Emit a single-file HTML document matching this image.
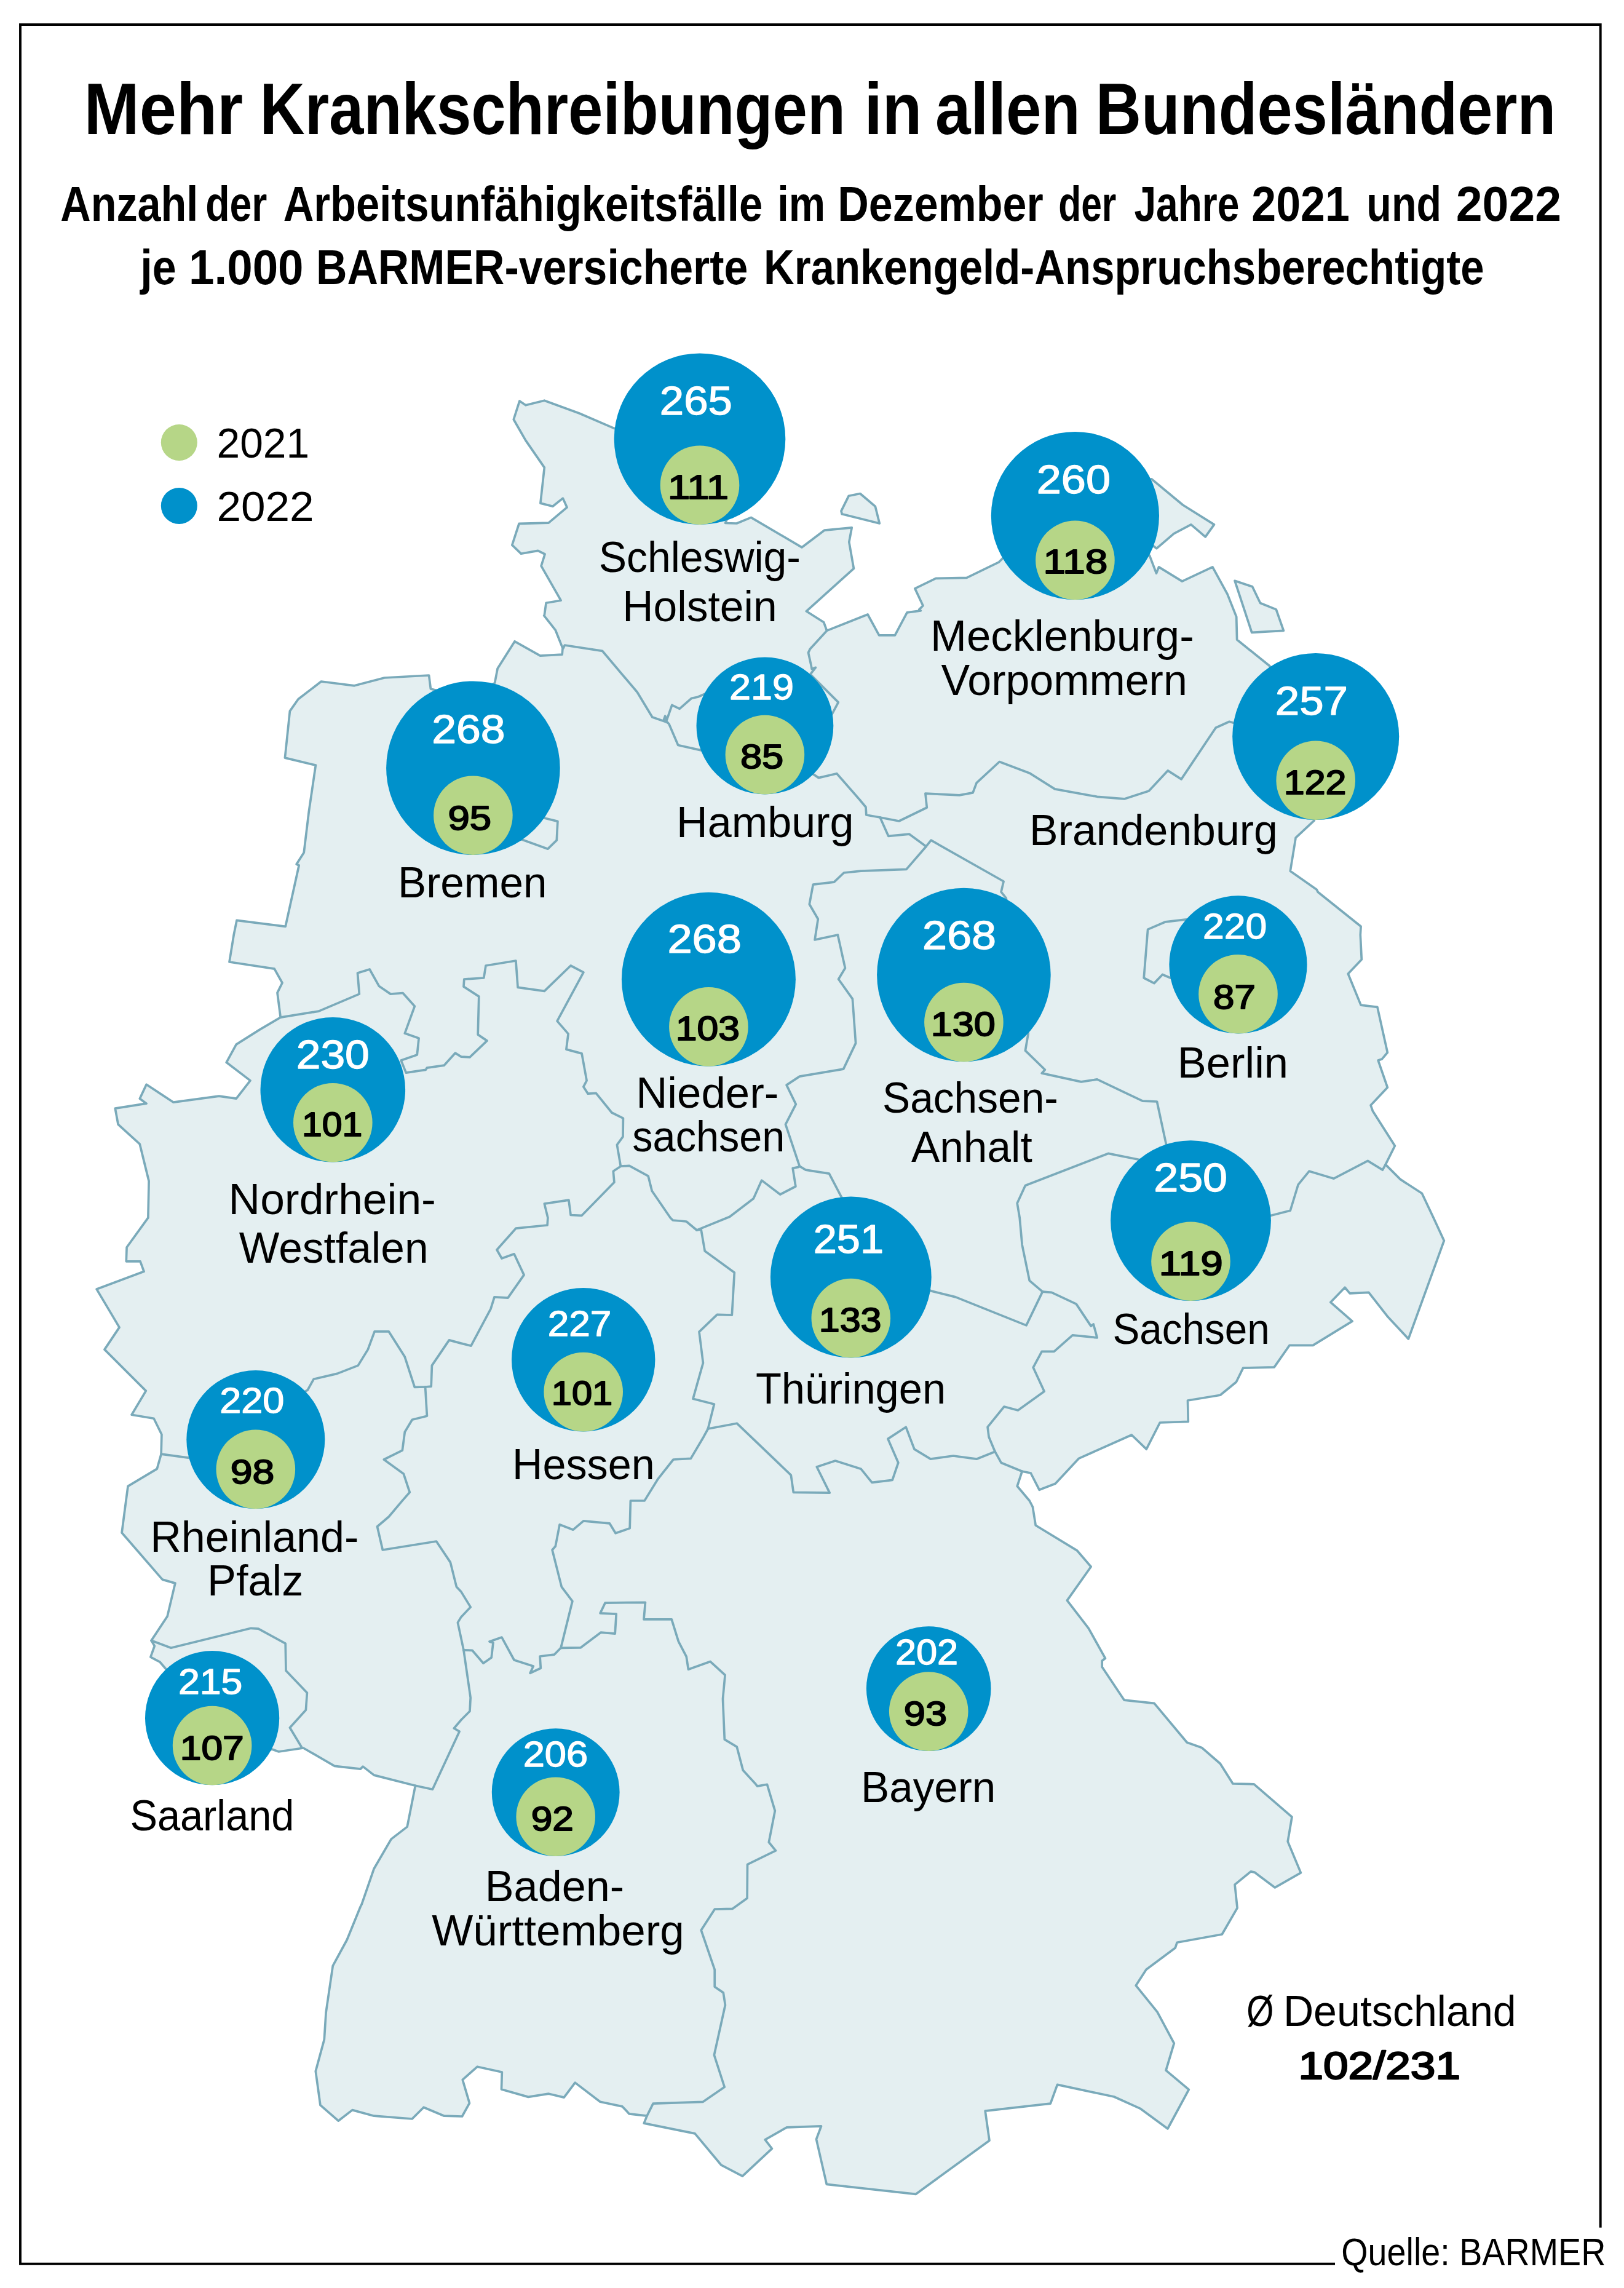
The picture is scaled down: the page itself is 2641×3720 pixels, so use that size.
<!DOCTYPE html>
<html lang="de"><head><meta charset="utf-8"><title>Mehr Krankschreibungen in allen Bundesländern</title>
<style>html,body{margin:0;padding:0;background:#fff}svg{display:block}text{font-family:"Liberation Sans", sans-serif;white-space:pre}</style></head><body>
<svg width="2641" height="3720" viewBox="0 0 2641 3720" role="img" aria-label="Mehr Krankschreibungen in allen Bundesländern">
<rect width="2641" height="3720" fill="#fff"/>
<path d="M2171 3680.8 L33 3680.8 L33 40 L2602.7 40 L2602.7 3621.7" fill="none" stroke="#000" stroke-width="3.9" stroke-linejoin="miter"/>
<g fill="#e4eff1" stroke="#7aaaba" stroke-width="3.7" stroke-linejoin="round" stroke-linecap="round">
<path d="M998.1 696.1 L942.1 672.0 L885.3 651.2 L854.9 658.8 L844.9 652.0 L835.3 682.0 L854.9 716.1 L885.3 760.1 L878.9 818.1 L898.9 823.3 L915.3 810.1 L922.1 824.9 L892.1 850.2 L844.1 851.4 L832.8 886.2 L847.3 900.2 L874.9 895.4 L886.1 901.0 L880.1 920.2 L912.1 976.2 L888.1 980.2 L885.3 1000.2 L884.7 1000.9 L903.2 1024.3 L915.0 1053.9 L914.2 1064.2 L878.5 1066.2 L837.1 1042.8 L809.1 1087.1 L804.6 1110.5 L760.0 1135.0 L700.4 1120.0 L697.6 1098.0 L625.1 1102.0 L576.3 1114.8 L522.3 1108.0 L485.0 1136.8 L471.4 1156.1 L463.4 1232.1 L513.4 1244.1 L502.2 1320.2 L494.2 1386.2 L482.2 1405.0 L486.2 1407.0 L464.2 1506.3 L385.0 1496.3 L380.2 1519.9 L373.0 1564.0 L446.2 1575.2 L459.0 1598.0 L451.0 1614.1 L456.2 1654.1 L422.2 1674.1 L384.2 1698.1 L368.2 1727.3 L407.0 1756.9 L384.2 1786.2 L356.2 1782.2 L282.1 1792.2 L238.1 1763.3 L227.3 1786.2 L238.1 1794.2 L187.3 1802.2 L192.1 1828.2 L227.3 1860.2 L242.1 1920.2 L240.9 1979.9 L206.1 2028.0 L205.3 2050.8 L228.1 2050.8 L234.1 2067.3 L157.2 2096.1 L194.1 2158.1 L170.0 2194.1 L237.3 2261.4 L214.1 2300.2 L250.1 2306.2 L262.9 2332.2 L262.1 2364.2 L255.3 2388.2 L208.1 2416.3 L204.9 2439.9 L198.1 2492.0 L264.1 2568.1 L284.9 2574.1 L272.1 2628.1 L246.1 2667.3 L251.3 2676.1 L244.9 2694.2 L260.1 2702.2 L272.1 2716.2 L255.0 2760.0 L270.0 2830.0 L330.0 2880.0 L400.0 2860.0 L442.1 2844.0 L453.3 2848.0 L493.3 2842.0 L544.1 2871.3 L586.2 2876.1 L590.2 2872.1 L608.2 2886.1 L675.4 2903.3 L662.2 2970.1 L636.2 2990.1 L608.2 3038.2 L588.2 3096.2 L586.2 3100.0 L564.2 3154.0 L541.3 3196.1 L530.1 3272.1 L527.3 3316.1 L513.3 3367.4 L520.9 3422.6 L550.2 3448.2 L573.0 3430.6 L608.2 3440.2 L670.2 3445.0 L689.0 3426.2 L722.3 3440.2 L751.5 3441.0 L763.5 3419.4 L752.3 3381.4 L776.3 3360.2 L816.3 3369.0 L815.5 3397.0 L859.1 3409.4 L892.4 3404.2 L917.2 3410.1 L935.2 3386.1 L976.0 3417.3 L1012.1 3424.9 L1023.3 3436.9 L1052.1 3440.1 L1047.3 3452.1 L1130.1 3468.9 L1173.0 3520.2 L1207.4 3538.2 L1255.4 3493.3 L1244.2 3478.9 L1279.4 3458.9 L1335.5 3456.9 L1327.5 3478.1 L1344.3 3551.4 L1489.2 3567.4 L1609.0 3480.2 L1602.2 3432.2 L1708.3 3420.2 L1719.5 3389.4 L1811.6 3409.0 L1854.0 3428.1 L1898.9 3461.0 L1933.3 3397.3 L1896.1 3366.1 L1909.3 3322.1 L1882.0 3271.2 L1847.2 3228.2 L1864.0 3202.2 L1911.3 3167.0 L1914.1 3158.2 L1987.3 3145.0 L2012.1 3102.1 L2008.1 3064.1 L2034.1 3042.9 L2040.1 3044.1 L2073.4 3068.9 L2115.4 3044.9 L2094.2 2994.1 L2101.0 2954.1 L2039.3 2900.8 L2004.9 2900.0 L1984.4 2867.5 L1954.3 2841.4 L1930.3 2833.0 L1877.1 2769.4 L1828.3 2764.2 L1792.2 2710.2 L1792.2 2700.2 L1797.4 2696.2 L1770.2 2647.3 L1735.4 2602.1 L1774.2 2547.3 L1751.4 2520.8 L1684.2 2480.0 L1679.4 2450.0 L1674.2 2440.0 L1654.2 2416.3 L1662.2 2392.2 L1676.2 2395.0 L1690.2 2422.3 L1716.2 2412.3 L1754.2 2371.4 L1840.3 2333.0 L1864.3 2356.2 L1886.3 2313.0 L1932.3 2311.4 L1931.5 2277.0 L1984.4 2268.2 L2010.4 2247.0 L2021.6 2224.1 L2072.2 2222.9 L2097.1 2187.3 L2135.1 2187.3 L2199.1 2148.1 L2163.9 2117.3 L2187.1 2093.3 L2195.1 2102.9 L2225.9 2101.3 L2257.2 2141.3 L2290.4 2176.9 L2348.4 2017.2 L2331.2 1980.0 L2312.4 1940.3 L2277.2 1917.4 L2253.2 1893.4 L2268.4 1863.0 L2232.3 1806.2 L2229.1 1797.0 L2256.4 1768.1 L2241.2 1724.1 L2247.2 1722.1 L2256.4 1711.3 L2239.9 1637.3 L2213.1 1634.1 L2192.3 1583.2 L2214.3 1560.0 L2212.3 1520.0 L2213.1 1506.3 L2143.1 1450.2 L2141.1 1446.2 L2098.3 1416.2 L2107.1 1362.2 L2137.1 1334.2 L2150.0 1280.0 L2120.0 1150.0 L2064.1 1082.2 L2011.6 1040.0 L2010.7 1002.9 L1996.0 965.9 L1971.9 921.9 L1922.4 945.2 L1884.5 921.9 L1880.5 932.2 L1869.3 902.9 L1800.0 880.0 L1700.0 850.0 L1630.1 908.2 L1624.1 914.2 L1572.1 939.4 L1521.9 940.4 L1487.9 956.9 L1501.0 984.7 L1494.8 990.9 L1497.3 992.9 L1475.1 995.8 L1455.4 1032.8 L1429.6 1032.8 L1411.1 999.0 L1344.6 1025.4 L1339.7 1011.8 L1311.3 993.8 L1388.4 924.4 L1380.8 881.3 L1385.2 857.9 L1340.9 862.1 L1303.9 889.9 L1221.4 841.4 L1198.0 851.0 L1179.6 850.5 L1200.0 800.0 L1100.0 720.0Z"/>
<path d="M1380.3 806.2 L1398.8 802.5 L1423.4 823.4 L1430.3 851.0 L1369.2 835.7 L1368.0 830.8Z"/>
<path d="M2008.1 944.3 L2036.6 953.8 L2049.5 980.5 L2075.3 990.9 L2087.4 1025.3 L2035.7 1028.3Z"/>
<path d="M1872.8 778.8 L1923.6 821.0 L1974.5 852.9 L1960.2 872.8 L1936.9 852.9 L1909.0 867.6 L1881.0 891.7 L1875.3 887.4 L1840.0 850.0 L1840.0 790.0Z"/>
<g fill="none">
<path d="M916.0 1053.9 L918.4 1049.0 L979.5 1058.3 L1036.2 1125.3 L1060.8 1166.0 L1085.4 1174.6"/>
<path d="M1085.4 1174.6 L1079.3 1170.9 L1081.7 1164.2 L1084.2 1170.9 L1092.8 1146.3 L1105.1 1152.4 L1124.8 1135.2 L1134.7 1133.2 L1144.5 1129.0 L1172.1 1117.2"/>
<path d="M1085.4 1174.6 L1087.9 1177.0 L1102.7 1211.5 L1133.4 1218.4 L1162.7 1225.0"/>
<path d="M1344.6 1025.4 L1317.5 1054.9 L1314.5 1061.1 L1318.7 1080.0 L1320.2 1087.7 L1326.4 1085.3 L1317.7 1096.4 L1363.3 1141.9 L1353.4 1160.4 L1339.2 1186.9"/>
<path d="M1297.7 1242.3 L1322.7 1258.9 L1331.3 1264.6 L1360.8 1257.7 L1397.8 1300.0 L1408.0 1312.2 L1408.8 1325.0 L1431.2 1329.0 L1462.0 1335.0 L1507.3 1313.0 L1504.9 1290.1 L1560.1 1292.9 L1582.1 1288.9 L1588.1 1272.9 L1625.3 1238.5 L1674.2 1256.9 L1715.4 1282.9 L1784.2 1295.3 L1828.3 1298.9 L1868.3 1286.1 L1899.1 1252.9 L1921.1 1266.9 L1977.1 1183.3 L1999.2 1173.3 L2008.4 1176.1 L2037.1 1184.8"/>
<path d="M1431.2 1329.0 L1444.8 1359.4 L1478.8 1356.2 L1506.1 1376.2"/>
<path d="M1506.1 1376.2 L1514.1 1366.2 L1632.1 1433.0 L1628.1 1450.2 L1636.1 1460.2 L1660.0 1560.0 L1672.2 1680.1 L1667.4 1708.1 L1699.4 1739.3 L1694.2 1744.9 L1758.2 1758.9 L1784.2 1754.9 L1858.3 1790.2 L1881.5 1791.0 L1895.5 1856.2 L1901.8 1885.5"/>
<path d="M1506.1 1376.2 L1474.0 1413.4 L1400.0 1416.2 L1372.4 1419.0 L1356.4 1434.2 L1322.3 1438.2 L1316.3 1470.2 L1330.3 1494.3 L1326.3 1519.9 L1325.1 1528.0 L1362.4 1520.0 L1374.4 1574.0 L1363.6 1592.0 L1386.4 1624.1 L1391.6 1696.1 L1371.6 1738.1 L1300.3 1750.1 L1279.1 1764.1 L1294.3 1795.4 L1277.5 1828.2 L1300.3 1896.2"/>
<path d="M1300.3 1896.2 L1310.3 1902.2 L1348.4 1908.2 L1368.4 1946.3 L1400.0 2000.0 L1480.0 2080.0 L1514.1 2098.9 L1554.1 2108.9 L1669.0 2154.9 L1695.4 2100.1"/>
<path d="M1299.0 1897.4 L1289.2 1899.4 L1293.9 1929.0 L1268.7 1942.0 L1238.7 1919.1 L1225.3 1948.7 L1186.7 1978.2 L1133.5 1999.9"/>
<path d="M1009.4 1896.2 L1023.4 1895.4 L1054.2 1912.2 L1060.2 1936.2 L1090.2 1980.0 L1094.2 1984.0 L1116.2 1986.0 L1133.0 2000.0"/>
<path d="M1133.0 2000.0 L1140.2 1999.2 L1146.2 2034.0 L1194.3 2068.9 L1190.3 2138.1 L1166.2 2137.3 L1137.0 2165.3 L1143.4 2216.1 L1127.0 2274.2 L1161.4 2283.0 L1151.4 2323.0"/>
<path d="M456.2 1654.1 L518.3 1644.1 L584.3 1616.1 L581.5 1582.0 L601.1 1576.0 L616.3 1603.2 L635.1 1616.1 L655.1 1614.5 L674.3 1636.1 L658.3 1680.1 L681.1 1688.1 L678.3 1714.9 L652.3 1724.1 L660.3 1744.1 L692.4 1739.3 L694.4 1736.1 L722.4 1732.1 L740.4 1712.1 L750.0 1718.1 L764.0 1718.9 L792.0 1692.1 L777.2 1682.1 L778.8 1620.1 L754.0 1604.1 L754.8 1592.0 L786.8 1590.0 L790.0 1570.0 L838.9 1562.0 L842.1 1605.3 L885.3 1611.3 L928.1 1570.0 L948.9 1580.8 L906.1 1660.1 L924.1 1680.9 L920.9 1706.1 L946.1 1712.9 L954.1 1756.9 L948.9 1766.9 L956.1 1778.2 L969.3 1777.4 L994.9 1809.0 L1013.4 1818.2 L1013.0 1848.2 L1003.4 1861.4 L1009.4 1896.2"/>
<path d="M1009.4 1896.2 L997.3 1904.2 L998.9 1922.2 L946.1 1976.3 L928.1 1975.5 L924.9 1951.1 L885.3 1957.1 L890.9 1979.9 L890.1 1992.0 L838.9 1997.2 L808.0 2032.0 L816.0 2046.0 L836.1 2038.8 L852.1 2072.9 L826.0 2110.1 L804.0 2108.9 L798.0 2128.1 L766.0 2188.1 L750.0 2184.1 L730.4 2178.9 L702.4 2220.1 L701.2 2254.2 L691.6 2255.0"/>
<path d="M262.1 2364.2 L306.1 2370.2 L500.2 2260.2 L510.2 2242.2 L548.3 2233.4 L582.3 2220.1 L598.3 2194.1 L609.1 2164.9 L632.3 2164.9 L658.3 2206.1 L674.3 2255.4 L691.6 2255.0"/>
<path d="M691.6 2255.0 L694.4 2302.2 L670.3 2308.2 L658.3 2328.2 L654.3 2358.2 L624.3 2373.0 L656.3 2396.2 L666.3 2426.3 L654.3 2439.9 L632.3 2466.0 L613.5 2482.0 L622.3 2520.0 L709.6 2506.0 L732.4 2540.1 L742.4 2580.1 L750.0 2588.1 L765.2 2612.9 L750.0 2628.9 L744.4 2638.1 L750.0 2664.1 L754.0 2682.9"/>
<path d="M912.1 2679.3 L901.3 2690.2 L878.1 2693.0 L879.3 2712.2 L862.1 2720.2 L867.3 2709.0 L836.1 2699.0 L816.0 2662.1 L796.0 2668.9 L802.0 2670.9 L799.2 2695.0 L786.0 2704.2 L768.0 2683.3 L754.0 2682.9"/>
<path d="M754.0 2682.9 L765.2 2760.2 L764.0 2782.2 L750.0 2796.2 L738.3 2810.0 L747.1 2815.2 L703.4 2909.3 L675.4 2903.3"/>
<path d="M1151.4 2323.0 L1144.2 2336.2 L1123.4 2371.4 L1095.0 2373.0 L1070.2 2404.3 L1048.2 2439.9 L1025.4 2440.0 L1024.2 2484.8 L1001.0 2492.8 L991.3 2476.8 L948.9 2472.8 L932.1 2487.2 L910.1 2478.8 L903.3 2514.0 L898.1 2520.0 L913.3 2580.1 L930.9 2603.3 L912.1 2679.3"/>
<path d="M1151.4 2323.0 L1198.3 2314.2 L1286.3 2398.3 L1290.3 2426.3 L1349.2 2427.1 L1328.3 2385.0 L1358.4 2375.0 L1400.0 2388.2 L1418.0 2410.3 L1451.2 2406.3 L1460.8 2378.2 L1444.0 2339.4 L1473.2 2320.2 L1486.9 2356.2 L1513.3 2372.2 L1550.1 2367.0 L1588.1 2372.2 L1618.1 2360.2"/>
<path d="M1695.4 2100.1 L1710.2 2101.3 L1750.2 2120.1 L1774.2 2156.1 L1778.2 2152.9 L1784.2 2174.9 L1744.2 2170.9 L1714.2 2197.3 L1694.2 2197.3 L1680.2 2223.3 L1698.2 2262.2 L1655.4 2293.0 L1632.9 2287.0 L1606.1 2320.2 L1608.1 2336.2 L1618.1 2360.2"/>
<path d="M1618.1 2360.2 L1628.1 2378.2 L1662.2 2392.2"/>
<path d="M1879.7 1890.9 L1850.3 1885.0 L1802.2 1875.4 L1667.4 1927.4 L1654.2 1956.3 L1658.2 1979.9 L1662.2 2024.0 L1674.2 2082.1 L1695.4 2100.1"/>
<path d="M2253.2 1893.4 L2248.4 1902.2 L2224.3 1887.4 L2169.1 1916.2 L2129.1 1904.2 L2111.1 1926.2 L2098.3 1968.3 L2067.0 1976.3 L2037.9 1983.7"/>
<path d="M912.1 2679.3 L944.1 2678.9 L977.3 2654.1 L1000.2 2656.1 L1002.2 2624.1 L976.1 2622.9 L984.1 2606.1 L1049.4 2605.3 L1047.0 2632.9 L1092.2 2632.9 L1103.4 2668.9 L1116.2 2693.4 L1119.4 2714.2 L1155.0 2701.4 L1179.1 2723.4 L1175.5 2762.2 L1178.3 2828.2 L1198.3 2840.2 L1208.3 2878.3 L1228.3 2899.9 L1231.5 2904.1 L1247.5 2901.3 L1260.3 2944.1 L1250.3 2995.3 L1261.5 3008.9 L1215.5 3031.4 L1215.1 3086.2 L1191.1 3103.4 L1162.2 3104.2 L1140.2 3138.2 L1162.2 3202.3 L1162.2 3230.3 L1176.3 3239.9 L1179.4 3260.0 L1161.4 3341.2 L1178.2 3393.3 L1143.3 3417.3 L1062.1 3420.1 L1052.1 3440.1"/>
<path d="M246.1 2667.3 L278.1 2679.3 L408.2 2647.3 L420.2 2648.1 L464.2 2672.1 L465.0 2716.2 L499.4 2752.2 L497.4 2780.2 L471.4 2809.0 L490.2 2840.2"/>
<path d="M1957.2 1491.7 L1927.4 1495.1 L1895.4 1498.8 L1866.6 1511.1 L1860.2 1590.0 L1876.9 1598.6 L1890.5 1584.5 L1903.5 1590.0 L1931.1 1601.7"/>
<path d="M857.0 1322.9 L886.1 1330.2 L906.9 1335.4 L905.3 1366.2 L890.9 1380.2 L852.1 1366.2 L823.9 1356.0"/>
</g></g>
<circle cx="291.3" cy="719.4" r="29.5" fill="#b6d687"/><circle cx="291.3" cy="822.4" r="29.5" fill="#0091cb"/>
<circle cx="1138.0" cy="713.7" r="139.3" fill="#0091cb"/><circle cx="1138.0" cy="788.7" r="64.3" fill="#b6d687"/>
<circle cx="1748.4" cy="838.5" r="136.6" fill="#0091cb"/><circle cx="1748.4" cy="910.8" r="64.3" fill="#b6d687"/>
<circle cx="1243.9" cy="1180.0" r="111.4" fill="#0091cb"/><circle cx="1243.9" cy="1227.1" r="64.3" fill="#b6d687"/>
<circle cx="769.4" cy="1248.7" r="141.3" fill="#0091cb"/><circle cx="769.4" cy="1325.7" r="64.3" fill="#b6d687"/>
<circle cx="2139.7" cy="1197.5" r="135.5" fill="#0091cb"/><circle cx="2139.7" cy="1268.7" r="64.3" fill="#b6d687"/>
<circle cx="1152.4" cy="1592.2" r="141.5" fill="#0091cb"/><circle cx="1152.4" cy="1669.4" r="64.3" fill="#b6d687"/>
<circle cx="1567.4" cy="1585.0" r="141.3" fill="#0091cb"/><circle cx="1567.4" cy="1662.0" r="64.3" fill="#b6d687"/>
<circle cx="2013.5" cy="1568.4" r="112.1" fill="#0091cb"/><circle cx="2013.5" cy="1616.2" r="64.3" fill="#b6d687"/>
<circle cx="541.3" cy="1771.7" r="117.8" fill="#0091cb"/><circle cx="541.3" cy="1825.2" r="64.3" fill="#b6d687"/>
<circle cx="1936.5" cy="1984.6" r="130.4" fill="#0091cb"/><circle cx="1936.5" cy="2050.7" r="64.3" fill="#b6d687"/>
<circle cx="1383.8" cy="2076.5" r="130.9" fill="#0091cb"/><circle cx="1383.8" cy="2143.1" r="64.3" fill="#b6d687"/>
<circle cx="948.7" cy="2210.7" r="116.7" fill="#0091cb"/><circle cx="948.7" cy="2263.1" r="64.3" fill="#b6d687"/>
<circle cx="415.8" cy="2340.6" r="112.5" fill="#0091cb"/><circle cx="415.8" cy="2388.8" r="64.3" fill="#b6d687"/>
<circle cx="345.1" cy="2793.2" r="109.1" fill="#0091cb"/><circle cx="345.1" cy="2838.0" r="64.3" fill="#b6d687"/>
<circle cx="903.7" cy="2914.1" r="103.9" fill="#0091cb"/><circle cx="903.7" cy="2953.7" r="64.3" fill="#b6d687"/>
<circle cx="1510.2" cy="2745.6" r="101.3" fill="#0091cb"/><circle cx="1510.2" cy="2782.6" r="64.3" fill="#b6d687"/>
<text x="1072.8" y="674.2" font-size="65.7" font-weight="400" fill="#fff" stroke="#fff" stroke-width="1.3" stroke-linejoin="round" textLength="118.1" lengthAdjust="spacingAndGlyphs">265</text>
<text x="1085.9" y="810.9" font-size="56.4" font-weight="400" fill="#000" stroke="#000" stroke-width="1.9" stroke-linejoin="round" textLength="99.1" lengthAdjust="spacingAndGlyphs">111</text>
<text x="1685.7" y="801.5" font-size="65.7" font-weight="400" fill="#fff" stroke="#fff" stroke-width="1.3" stroke-linejoin="round" textLength="120.3" lengthAdjust="spacingAndGlyphs">260</text>
<text x="1696.5" y="932.1" font-size="56.4" font-weight="400" fill="#000" stroke="#000" stroke-width="1.9" stroke-linejoin="round" textLength="104.8" lengthAdjust="spacingAndGlyphs">118</text>
<text x="1186.1" y="1137.0" font-size="58.1" font-weight="400" fill="#fff" stroke="#fff" stroke-width="1.3" stroke-linejoin="round" textLength="105.0" lengthAdjust="spacingAndGlyphs">219</text>
<text x="1203.9" y="1249.0" font-size="56.4" font-weight="400" fill="#000" stroke="#000" stroke-width="1.9" stroke-linejoin="round" textLength="70.4" lengthAdjust="spacingAndGlyphs">85</text>
<text x="702.2" y="1208.2" font-size="65.7" font-weight="400" fill="#fff" stroke="#fff" stroke-width="1.3" stroke-linejoin="round" textLength="119.3" lengthAdjust="spacingAndGlyphs">268</text>
<text x="728.4" y="1348.7" font-size="56.4" font-weight="400" fill="#000" stroke="#000" stroke-width="1.9" stroke-linejoin="round" textLength="70.6" lengthAdjust="spacingAndGlyphs">95</text>
<text x="2073.8" y="1162.3" font-size="65.7" font-weight="400" fill="#fff" stroke="#fff" stroke-width="1.3" stroke-linejoin="round" textLength="118.2" lengthAdjust="spacingAndGlyphs">257</text>
<text x="2087.8" y="1291.0" font-size="56.4" font-weight="400" fill="#000" stroke="#000" stroke-width="1.9" stroke-linejoin="round" textLength="101.7" lengthAdjust="spacingAndGlyphs">122</text>
<text x="1085.4" y="1549.0" font-size="65.7" font-weight="400" fill="#fff" stroke="#fff" stroke-width="1.3" stroke-linejoin="round" textLength="120.5" lengthAdjust="spacingAndGlyphs">268</text>
<text x="1098.8" y="1690.8" font-size="56.4" font-weight="400" fill="#000" stroke="#000" stroke-width="1.9" stroke-linejoin="round" textLength="104.1" lengthAdjust="spacingAndGlyphs">103</text>
<text x="1500.1" y="1542.8" font-size="65.7" font-weight="400" fill="#fff" stroke="#fff" stroke-width="1.3" stroke-linejoin="round" textLength="120.0" lengthAdjust="spacingAndGlyphs">268</text>
<text x="1513.7" y="1684.0" font-size="56.4" font-weight="400" fill="#000" stroke="#000" stroke-width="1.9" stroke-linejoin="round" textLength="105.0" lengthAdjust="spacingAndGlyphs">130</text>
<text x="1956.1" y="1525.7" font-size="58.1" font-weight="400" fill="#fff" stroke="#fff" stroke-width="1.3" stroke-linejoin="round" textLength="104.1" lengthAdjust="spacingAndGlyphs">220</text>
<text x="1973.1" y="1639.5" font-size="56.4" font-weight="400" fill="#000" stroke="#000" stroke-width="1.9" stroke-linejoin="round" textLength="68.8" lengthAdjust="spacingAndGlyphs">87</text>
<text x="481.7" y="1737.2" font-size="65.7" font-weight="400" fill="#fff" stroke="#fff" stroke-width="1.3" stroke-linejoin="round" textLength="119.1" lengthAdjust="spacingAndGlyphs">230</text>
<text x="491.1" y="1847.4" font-size="56.4" font-weight="400" fill="#000" stroke="#000" stroke-width="1.9" stroke-linejoin="round" textLength="98.3" lengthAdjust="spacingAndGlyphs">101</text>
<text x="1876.2" y="1936.5" font-size="65.7" font-weight="400" fill="#fff" stroke="#fff" stroke-width="1.3" stroke-linejoin="round" textLength="119.9" lengthAdjust="spacingAndGlyphs">250</text>
<text x="1884.8" y="2072.9" font-size="56.4" font-weight="400" fill="#000" stroke="#000" stroke-width="1.9" stroke-linejoin="round" textLength="103.8" lengthAdjust="spacingAndGlyphs">119</text>
<text x="1322.7" y="2037.2" font-size="65.7" font-weight="400" fill="#fff" stroke="#fff" stroke-width="1.3" stroke-linejoin="round" textLength="114.3" lengthAdjust="spacingAndGlyphs">251</text>
<text x="1331.8" y="2165.2" font-size="56.4" font-weight="400" fill="#000" stroke="#000" stroke-width="1.9" stroke-linejoin="round" textLength="101.7" lengthAdjust="spacingAndGlyphs">133</text>
<text x="890.8" y="2171.6" font-size="58.1" font-weight="400" fill="#fff" stroke="#fff" stroke-width="1.3" stroke-linejoin="round" textLength="103.5" lengthAdjust="spacingAndGlyphs">227</text>
<text x="896.8" y="2284.2" font-size="56.4" font-weight="400" fill="#000" stroke="#000" stroke-width="1.9" stroke-linejoin="round" textLength="99.4" lengthAdjust="spacingAndGlyphs">101</text>
<text x="357.2" y="2297.2" font-size="58.1" font-weight="400" fill="#fff" stroke="#fff" stroke-width="1.3" stroke-linejoin="round" textLength="105.1" lengthAdjust="spacingAndGlyphs">220</text>
<text x="374.7" y="2411.5" font-size="56.4" font-weight="400" fill="#000" stroke="#000" stroke-width="1.9" stroke-linejoin="round" textLength="71.5" lengthAdjust="spacingAndGlyphs">98</text>
<text x="289.9" y="2754.4" font-size="58.1" font-weight="400" fill="#fff" stroke="#fff" stroke-width="1.3" stroke-linejoin="round" textLength="104.4" lengthAdjust="spacingAndGlyphs">215</text>
<text x="292.8" y="2861.0" font-size="56.4" font-weight="400" fill="#000" stroke="#000" stroke-width="1.9" stroke-linejoin="round" textLength="103.8" lengthAdjust="spacingAndGlyphs">107</text>
<text x="850.7" y="2871.8" font-size="58.1" font-weight="400" fill="#fff" stroke="#fff" stroke-width="1.3" stroke-linejoin="round" textLength="105.5" lengthAdjust="spacingAndGlyphs">206</text>
<text x="863.8" y="2976.1" font-size="56.4" font-weight="400" fill="#000" stroke="#000" stroke-width="1.9" stroke-linejoin="round" textLength="69.1" lengthAdjust="spacingAndGlyphs">92</text>
<text x="1455.9" y="2705.7" font-size="58.1" font-weight="400" fill="#fff" stroke="#fff" stroke-width="1.3" stroke-linejoin="round" textLength="102.3" lengthAdjust="spacingAndGlyphs">202</text>
<text x="1469.8" y="2805.4" font-size="56.4" font-weight="400" fill="#000" stroke="#000" stroke-width="1.9" stroke-linejoin="round" textLength="70.3" lengthAdjust="spacingAndGlyphs">93</text>
<text x="973.7" y="929.9" font-size="70.7" font-weight="400" fill="#000" textLength="328.3" lengthAdjust="spacingAndGlyphs">Schleswig-</text>
<text x="1012.2" y="1009.6" font-size="70.7" font-weight="400" fill="#000" textLength="251.5" lengthAdjust="spacingAndGlyphs">Holstein</text>
<text x="1513.0" y="1058.0" font-size="70.7" font-weight="400" fill="#000" textLength="428.7" lengthAdjust="spacingAndGlyphs">Mecklenburg-</text>
<text x="1530.5" y="1129.8" font-size="70.7" font-weight="400" fill="#000" textLength="400.3" lengthAdjust="spacingAndGlyphs">Vorpommern</text>
<text x="1100.1" y="1361.3" font-size="70.7" font-weight="400" fill="#000" textLength="288.4" lengthAdjust="spacingAndGlyphs">Hamburg</text>
<text x="647.1" y="1458.9" font-size="70.7" font-weight="400" fill="#000" textLength="242.5" lengthAdjust="spacingAndGlyphs">Bremen</text>
<text x="1674.1" y="1374.3" font-size="70.7" font-weight="400" fill="#000" textLength="403.8" lengthAdjust="spacingAndGlyphs">Brandenburg</text>
<text x="1034.2" y="1800.5" font-size="70.7" font-weight="400" fill="#000" textLength="232.2" lengthAdjust="spacingAndGlyphs">Nieder-</text>
<text x="1028.3" y="1871.7" font-size="70.7" font-weight="400" fill="#000" textLength="248.1" lengthAdjust="spacingAndGlyphs">sachsen</text>
<text x="1435.1" y="1809.3" font-size="70.7" font-weight="400" fill="#000" textLength="285.7" lengthAdjust="spacingAndGlyphs">Sachsen-</text>
<text x="1482.0" y="1888.5" font-size="70.7" font-weight="400" fill="#000" textLength="196.7" lengthAdjust="spacingAndGlyphs">Anhalt</text>
<text x="1914.8" y="1752.3" font-size="70.7" font-weight="400" fill="#000" textLength="180.2" lengthAdjust="spacingAndGlyphs">Berlin</text>
<text x="371.6" y="1973.7" font-size="70.7" font-weight="400" fill="#000" textLength="337.3" lengthAdjust="spacingAndGlyphs">Nordrhein-</text>
<text x="388.8" y="2053.0" font-size="70.7" font-weight="400" fill="#000" textLength="307.8" lengthAdjust="spacingAndGlyphs">Westfalen</text>
<text x="1809.4" y="2185.3" font-size="70.7" font-weight="400" fill="#000" textLength="255.5" lengthAdjust="spacingAndGlyphs">Sachsen</text>
<text x="1228.9" y="2281.8" font-size="70.7" font-weight="400" fill="#000" textLength="309.3" lengthAdjust="spacingAndGlyphs">Thüringen</text>
<text x="833.1" y="2405.3" font-size="70.7" font-weight="400" fill="#000" textLength="231.7" lengthAdjust="spacingAndGlyphs">Hessen</text>
<text x="244.2" y="2523.2" font-size="70.7" font-weight="400" fill="#000" textLength="339.2" lengthAdjust="spacingAndGlyphs">Rheinland-</text>
<text x="337.0" y="2594.4" font-size="70.7" font-weight="400" fill="#000" textLength="156.4" lengthAdjust="spacingAndGlyphs">Pfalz</text>
<text x="211.4" y="2975.7" font-size="70.7" font-weight="400" fill="#000" textLength="267.1" lengthAdjust="spacingAndGlyphs">Saarland</text>
<text x="788.8" y="3090.5" font-size="70.7" font-weight="400" fill="#000" textLength="226.4" lengthAdjust="spacingAndGlyphs">Baden-</text>
<text x="702.2" y="3162.5" font-size="70.7" font-weight="400" fill="#000" textLength="410.7" lengthAdjust="spacingAndGlyphs">Württemberg</text>
<text x="1400.0" y="2929.7" font-size="70.7" font-weight="400" fill="#000" textLength="219.3" lengthAdjust="spacingAndGlyphs">Bayern</text>
<text x="2111.4" y="3379.8" font-size="63.0" font-weight="400" fill="#000" stroke="#000" stroke-width="2.4" stroke-linejoin="round" textLength="263.6" lengthAdjust="spacingAndGlyphs">102/231</text>
<text x="2181.3" y="3683.0" font-size="62.3" font-weight="400" fill="#000" textLength="430.2" lengthAdjust="spacingAndGlyphs">Quelle: BARMER</text>
<text x="352.5" y="743.9" font-size="68.6" font-weight="400" fill="#000" textLength="150.7" lengthAdjust="spacingAndGlyphs">2021</text>
<text x="352.4" y="847.0" font-size="68.6" font-weight="400" fill="#000" textLength="158.2" lengthAdjust="spacingAndGlyphs">2022</text>
<text y="3293.5" font-size="70.7" font-weight="400" fill="#000"><tspan x="2027.3" textLength="44.2" lengthAdjust="spacingAndGlyphs">Ø</tspan> <tspan x="2086.9" textLength="378.8" lengthAdjust="spacingAndGlyphs">Deutschland</tspan></text>
<text y="218.2" font-size="119.6" font-weight="700" fill="#000"><tspan x="136.6" textLength="258.6" lengthAdjust="spacingAndGlyphs">Mehr</tspan> <tspan x="422.4" textLength="952.5" lengthAdjust="spacingAndGlyphs">Krankschreibungen</tspan> <tspan x="1405.5" textLength="93.9" lengthAdjust="spacingAndGlyphs">in</tspan> <tspan x="1520.9" textLength="235.9" lengthAdjust="spacingAndGlyphs">allen</tspan> <tspan x="1781.8" textLength="748.5" lengthAdjust="spacingAndGlyphs">Bundesländern</tspan></text>
<text y="358.6" font-size="79.0" font-weight="700" fill="#000"><tspan x="98.3" textLength="224.0" lengthAdjust="spacingAndGlyphs">Anzahl</tspan> <tspan x="334.2" textLength="100.2" lengthAdjust="spacingAndGlyphs">der</tspan> <tspan x="460.7" textLength="779.5" lengthAdjust="spacingAndGlyphs">Arbeitsunfähigkeitsfälle</tspan> <tspan x="1264.3" textLength="77.9" lengthAdjust="spacingAndGlyphs">im</tspan> <tspan x="1362.2" textLength="334.5" lengthAdjust="spacingAndGlyphs">Dezember</tspan> <tspan x="1721.2" textLength="94.2" lengthAdjust="spacingAndGlyphs">der</tspan> <tspan x="1844.4" textLength="171.0" lengthAdjust="spacingAndGlyphs">Jahre</tspan> <tspan x="2035.3" textLength="159.5" lengthAdjust="spacingAndGlyphs">2021</tspan> <tspan x="2222.3" textLength="121.8" lengthAdjust="spacingAndGlyphs">und</tspan> <tspan x="2367.7" textLength="171.5" lengthAdjust="spacingAndGlyphs">2022</tspan></text>
<text y="462.0" font-size="79.0" font-weight="700" fill="#000"><tspan x="228.3" textLength="58.3" lengthAdjust="spacingAndGlyphs">je</tspan> <tspan x="307.0" textLength="186.6" lengthAdjust="spacingAndGlyphs">1.000</tspan> <tspan x="514.0" textLength="702.4" lengthAdjust="spacingAndGlyphs">BARMER-versicherte</tspan> <tspan x="1242.0" textLength="1171.6" lengthAdjust="spacingAndGlyphs">Krankengeld-Anspruchsberechtigte</tspan></text>
</svg></body></html>
